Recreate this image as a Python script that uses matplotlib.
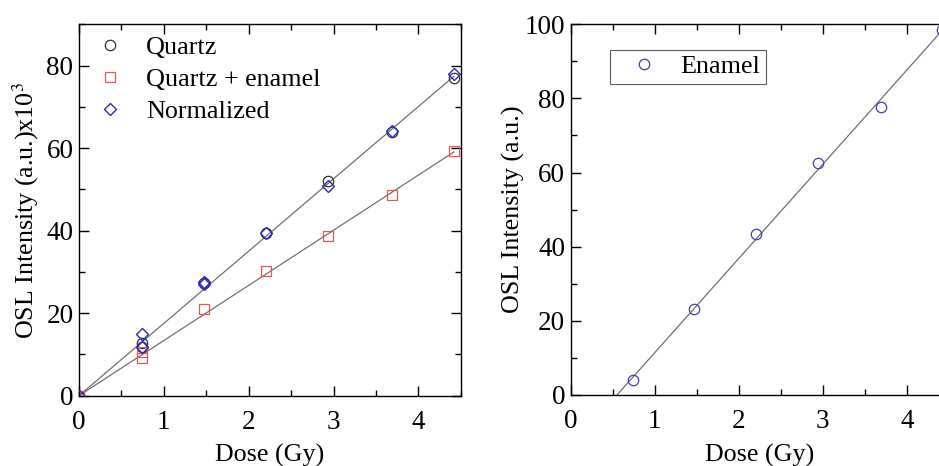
import numpy as np
import matplotlib
matplotlib.use("Agg")
import matplotlib.pyplot as plt
from matplotlib.ticker import MultipleLocator

plt.rcParams['font.family'] = ['Liberation Serif', 'DejaVu Serif']
plt.rcParams['mathtext.fontset'] = 'stix'

# Left panel data
dose_q = [0, 0.74, 0.74, 1.47, 2.21, 2.94, 3.69, 4.42]
quartz = [0, 12.7, 11.9, 27.3, 39.5, 52.0, 64.0, 76.9]
dose_qe = [0, 0.74, 0.74, 1.47, 2.21, 2.94, 3.69, 4.42]
quartz_enamel = [0, 9.1, 10.6, 20.9, 30.1, 38.8, 48.7, 59.2]
dose_n = [0, 0.74, 0.74, 1.47, 1.47, 2.21, 2.94, 3.69, 4.42]
normalized = [0, 14.9, 11.9, 27.5, 27.0, 39.5, 50.9, 64.2, 77.9]

# Right panel data
dose_e = [0.74, 1.47, 2.21, 2.94, 3.69, 4.42]
enamel = [4.0, 23.1, 43.3, 62.6, 77.6, 98.5]

fig = plt.figure(figsize=(9.39, 4.66), dpi=100)
ax1 = fig.add_axes([0.0841, 0.1509, 0.4066, 0.797])
ax2 = fig.add_axes([0.6078, 0.1524, 0.4026, 0.7955])

line_c = '#707070'
fs_tick = 19.5
fs_lab = 18.7
fs_leg = 18.8

def style(ax):
    ax.tick_params(which='both', direction='in', top=True, right=True, labelsize=fs_tick, width=1.0)
    ax.tick_params(which='major', length=7)
    ax.tick_params(which='minor', length=4)
    ax.tick_params(axis='x', pad=10)
    ax.tick_params(axis='y', pad=4)
    for s in ax.spines.values():
        s.set_linewidth(1.0)

# fits on left
xs = np.array(dose_q); ys = np.array(quartz)
k1 = np.sum(xs * ys) / np.sum(xs * xs)
xs2 = np.array(dose_qe); ys2 = np.array(quartz_enamel)
k2 = np.sum(xs2 * ys2) / np.sum(xs2 * xs2)
xl = np.array([0, max(dose_q)])
ax1.plot(xl, k1 * xl, color=line_c, lw=0.9, zorder=1)
ax1.plot(xl, k2 * xl, color=line_c, lw=0.9, zorder=1)

ax1.plot(dose_q, quartz, 'o', mfc='none', mec='#333333', ms=7.5, mew=0.9, label='Quartz', zorder=2)
ax1.plot(dose_qe, quartz_enamel, 's', mfc='none', mec='#e05858', ms=7, mew=0.9, label='Quartz + enamel', zorder=2)
ax1.plot(dose_n, normalized, 'D', mfc='none', mec='#2b2bbf', ms=6.2, mew=1.0, label='Normalized', zorder=3)

ax1.set_xlim(0, 4.5)
ax1.set_ylim(0, 90)
ax1.xaxis.set_major_locator(MultipleLocator(1))
ax1.xaxis.set_minor_locator(MultipleLocator(0.5))
ax1.yaxis.set_major_locator(MultipleLocator(20))
ax1.yaxis.set_minor_locator(MultipleLocator(10))
style(ax1)
ax1.set_xlabel('Dose (Gy)', fontsize=fs_lab, labelpad=7)
ax1.set_ylabel(r'OSL Intensity (a.u.)x10$^3$', fontsize=fs_lab, labelpad=4)
ax1.legend(loc='upper left', bbox_to_anchor=(0.047, 0.97), frameon=False, fontsize=fs_leg,
           handlelength=1.0, handletextpad=0.87, labelspacing=0.34, borderaxespad=0.0, borderpad=0.0)

# right panel
xe = np.array(dose_e); ye = np.array(enamel)
m, b = np.polyfit(xe, ye, 1)
x0 = -b / m
xr = np.array([x0, max(dose_e)])
ax2.plot(xr, m * xr + b, color=line_c, lw=0.9, zorder=1)
ax2.plot(dose_e, enamel, 'o', mfc='none', mec='#4040b0', ms=7.5, mew=0.9, label='Enamel', zorder=2, clip_on=False)
ax2.set_xlim(0, 4.5)
ax2.set_ylim(0, 100)
ax2.xaxis.set_major_locator(MultipleLocator(1))
ax2.xaxis.set_minor_locator(MultipleLocator(0.5))
ax2.yaxis.set_major_locator(MultipleLocator(20))
ax2.yaxis.set_minor_locator(MultipleLocator(10))
style(ax2)
ax2.set_xlabel('Dose (Gy)', fontsize=fs_lab, labelpad=7)
ax2.set_ylabel('OSL Intensity (a.u.)', fontsize=fs_lab, labelpad=0)
leg = ax2.legend(loc='upper left', bbox_to_anchor=(0.104, 0.931), frameon=True, fancybox=False,
                 edgecolor='#333333', fontsize=fs_leg, handlelength=2.2, handletextpad=0.3,
                 borderpad=0.2, borderaxespad=0.0)
leg.get_frame().set_linewidth(0.8)

fig.savefig('out.png', dpi=100)
